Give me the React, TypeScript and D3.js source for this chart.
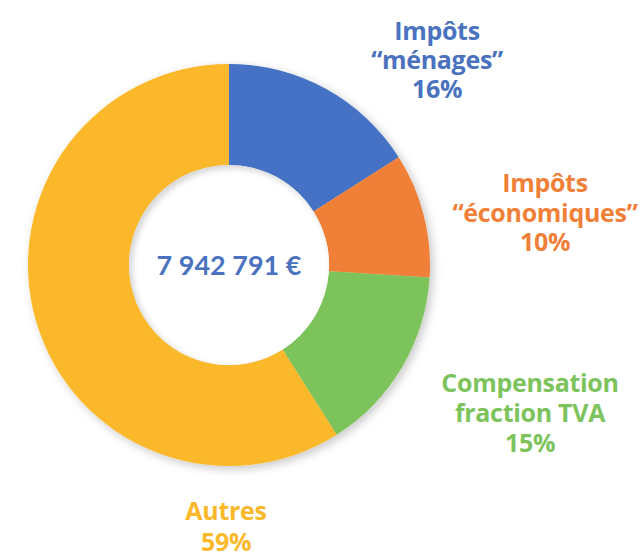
import React from "react";
import * as d3 from "d3";

const categories = ["Impôts “ménages”", "Impôts “économiques”", "Compensation fraction TVA", "Autres"];
const values = [16, 10, 15, 59];
const colors = ["#4472C4", "#F07F38", "#7DC35C", "#FBB829"];
const labelLines = [
  ["Impôts", "“ménages”", "16%"],
  ["Impôts", "“économiques”", "10%"],
  ["Compensation", "fraction TVA", "15%"],
  ["Autres", "59%"],
];
const labelColors = ["#4A72BE", "#F07F38", "#7DC35C", "#FBB829"];
const totalLabel = "7 942 791 €";

const W = 643;
const H = 554;
const cx = 229;
const cy = 265;
const R = 201;
const r = 100;

// label anchor centers (x), first baseline (y), line step
const labelPos = [
  { x: 437, y: 40, dy: 29 },
  { x: 545, y: 192, dy: 29.5 },
  { x: 530, y: 392, dy: 30 },
  { x: 226, y: 520, dy: 31 },
];

export default function App() {
  const pie = d3.pie<number>().sort(null).value((d) => d);
  const arcs = pie(values);
  const arcGen = d3.arc<d3.PieArcDatum<number>>().innerRadius(r).outerRadius(R);
  const font = "'Open Sans', Lato, sans-serif";
  return (
    <svg width={W} height={H} style={{ position: "absolute", left: 0, top: 0, background: "#fff" }}>
      <defs>
        <filter id="sh" x="-20%" y="-20%" width="140%" height="140%">
          <feDropShadow dx="3" dy="3" stdDeviation="5" floodColor="#000" floodOpacity="0.22" />
        </filter>
        <filter id="inner" x="-20%" y="-20%" width="140%" height="140%">
          <feGaussianBlur stdDeviation="3" />
        </filter>
        <clipPath id="hole">
          <circle r={r} />
        </clipPath>
      </defs>
      <g transform={`translate(${cx},${cy})`}>
        <g filter="url(#sh)">
          {arcs.map((a, i) => (
            <path key={categories[i]} d={arcGen(a) || ""} fill={colors[i]} />
          ))}
        </g>
        <circle r={r} fill="#fff" />
        <g clipPath="url(#hole)">
          <circle cx={3} cy={3} r={r + 4} fill="none" stroke="#000" strokeOpacity={0.18} strokeWidth={8} filter="url(#inner)" />
        </g>
        <text
          x={0}
          y={10}
          textAnchor="middle"
          fontFamily="Lato, 'Open Sans', sans-serif"
          fontWeight={700}
          fontSize={27}
          fill="#4A72BE"
        >
          {totalLabel}
        </text>
      </g>
      {labelLines.map((lines, i) => (
        <text
          key={categories[i]}
          textAnchor="middle"
          fontFamily={font}
          fontWeight={700}
          fontSize={25}
          letterSpacing={-0.3}
          fill={labelColors[i]}
        >
          {lines.map((ln, j) => (
            <tspan key={j} x={labelPos[i].x} y={labelPos[i].y + j * labelPos[i].dy}>
              {ln}
            </tspan>
          ))}
        </text>
      ))}
    </svg>
  );
}
